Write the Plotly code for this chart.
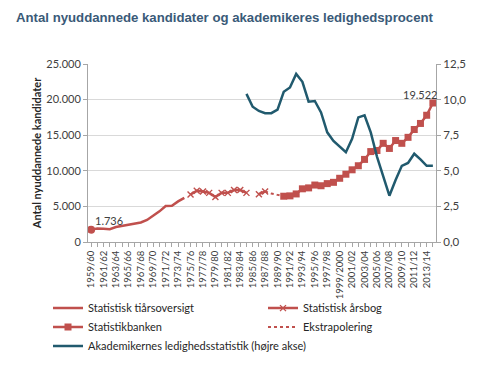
import plotly.graph_objects as go

# Categories: academic years 1959/60 .. 2014/15
years = list(range(1959, 2015))
categories = [f"{y}/{str(y + 1)[-2:]}" if y != 1999 else "1999/2000" for y in years]
tick_labels = [c if i % 2 == 0 else "" for i, c in enumerate(categories)]

# Statistisk tiårsoversigt (1959/60 - 1974/75)
tiar = [1736, 1900, 1850, 1800, 2100, 2250, 2400, 2550, 2750, 3100, 3700, 4300, 5050, 5100, 5700, 6200]
# Statistisk årsbog (1975/76 - 1987/88), gap in 1985/86
aarsbog = [6670, 7190, 7100, 6900, 6330, 6900, 6900, 7290, 7290, 6900, None, 6710, 7100]
# Ekstrapolering (1987/88 - 1990/91)
ekstra = [7100, 6800, 6620, 6430]
# Statistikbanken (1990/91 - 2014/15)
banken = [6430, 6480, 6750, 7470, 7600, 8000, 7900, 8200, 8380, 8950, 9520, 10140, 10710,
          11600, 12700, 12850, 13860, 13140, 14250, 13860, 14700, 15800, 16650, 17800, 19522]
# Akademikernes ledighedsstatistik, % (1984/85 - 2014/15)
ledighed = [10.4, 9.5, 9.2, 9.05, 9.05, 9.3, 10.55, 10.85, 11.8, 11.25, 9.85, 9.9, 9.1, 7.7,
            7.1, 6.7, 6.3, 7.25, 8.75, 8.9, 7.7, 6.0, 4.6, 3.25, 4.35, 5.35, 5.55, 6.2, 5.8,
            5.35, 5.35]

red = "#C0504D"
blue = "#215A6E"

x_tiar = categories[0:len(tiar)]
x_aarsbog = categories[16:16 + len(aarsbog)]
x_ekstra = categories[28:28 + len(ekstra)]
x_banken = categories[31:31 + len(banken)]
x_led = categories[25:25 + len(ledighed)]

fig = go.Figure()
fig.add_trace(go.Scatter(
    x=x_tiar, y=tiar, name="Statistisk tiårsoversigt", mode="lines",
    line=dict(color=red, width=2.5),
))
fig.add_trace(go.Scatter(
    x=x_tiar[:1], y=tiar[:1], mode="markers", showlegend=False, hoverinfo="skip",
    marker=dict(color=red, size=8),
))
fig.add_trace(go.Scatter(
    x=x_aarsbog, y=aarsbog, name="Statistisk årsbog", mode="lines+markers",
    line=dict(color=red, width=2.5),
    marker=dict(symbol="x-thin-open", size=6, line=dict(color=red, width=1.4), color=red),
))
fig.add_trace(go.Scatter(
    x=x_banken, y=banken, name="Statistikbanken", mode="lines+markers",
    line=dict(color=red, width=2.5),
    marker=dict(symbol="square", size=7, color=red),
))
fig.add_trace(go.Scatter(
    x=x_ekstra, y=ekstra, name="Ekstrapolering", mode="lines",
    line=dict(color=red, width=2, dash="dot"),
))
fig.add_trace(go.Scatter(
    x=x_led, y=ledighed, name="Akademikernes ledighedsstatistik (højre akse)", mode="lines",
    line=dict(color=blue, width=2.5), yaxis="y2",
))

# data labels
fig.add_annotation(x=x_tiar[0], y=tiar[0], text=f"{tiar[0]:,}".replace(",", "."),
                   showarrow=False, xanchor="left", yanchor="bottom", xshift=2, yshift=1,
                   font=dict(family="Lato", size=11, color="#404040"))
fig.add_annotation(x=x_banken[-1], y=banken[-1], text=f"{banken[-1]:,}".replace(",", "."),
                   showarrow=False, xanchor="center", yanchor="bottom", xshift=-12, yshift=0,
                   font=dict(family="Lato", size=11, color="#404040"))

tick_font = dict(family="Lato", size=11, color="#404040")

fig.update_layout(
    width=470, height=369,
    margin=dict(l=80, r=30, t=56, b=135),
    paper_bgcolor="white", plot_bgcolor="white",
    separators=",.",
    title=dict(text="<b>Antal nyuddannede kandidater og akademikeres ledighedsprocent</b>",
               x=8 / 470, xref="container", xanchor="left", y=1, yref="container",
               yanchor="top", pad=dict(t=5),
               font=dict(family="Liberation Sans", size=13.2, color="#3A5A78")),
    showlegend=True,
    legend=dict(orientation="h", x=-0.105, xanchor="left", y=-0.29, yanchor="top",
                entrywidth=170, entrywidthmode="pixels",
                font=dict(family="Lato", size=11, color="#262626"),
                itemwidth=30, tracegroupgap=0, bgcolor="rgba(0,0,0,0)"),
    xaxis=dict(type="category", categoryorder="array", categoryarray=categories,
               range=[-0.5, len(categories) - 0.5],
               tickmode="array", tickvals=categories, ticktext=tick_labels,
               tickangle=-90, ticks="outside", ticklen=4, tickcolor="#A6A6A6",
               showline=True, linecolor="#A6A6A6", linewidth=1, showgrid=False,
               tickfont=dict(family="Lato", size=9.5, color="#404040")),
    yaxis=dict(range=[0, 25000], tickvals=[0, 5000, 10000, 15000, 20000, 25000],
               tickformat=",d", ticks="outside", ticklen=4, tickcolor="#A6A6A6",
               showline=True, linecolor="#A6A6A6", showgrid=True, gridcolor="#D9D9D9",
               gridwidth=1, zeroline=False, tickfont=tick_font,
               title=dict(text="<b>Antal nyuddannede kandidater</b>", standoff=2,
                          font=dict(family="Lato", size=11, color="#262626"))),
    yaxis2=dict(range=[0, 12.5], tickvals=[0, 2.5, 5, 7.5, 10, 12.5], tickformat=".1f",
                ticksuffix="%", overlaying="y", side="right", ticks="outside", ticklen=4,
                tickcolor="#A6A6A6", showline=True, linecolor="#A6A6A6", showgrid=False,
                zeroline=False, tickfont=dict(family="Lato", size=11.5, color="#404040")),
)

fig.write_html("out.html")
